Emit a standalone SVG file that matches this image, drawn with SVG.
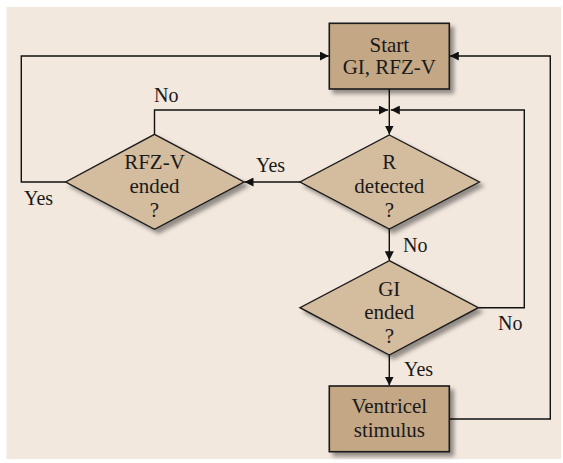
<svg xmlns="http://www.w3.org/2000/svg" width="563" height="463" viewBox="0 0 563 463">
  <defs>
    <style>
      .panel { fill: #f2e8de; }
      .box { fill: #c4a785; stroke: #1a1a1a; stroke-width: 1.6; filter: url(#shadow); }
      .dia { fill: #d4bc9e; stroke: #1a1a1a; stroke-width: 1.4; filter: url(#shadow); }
      .wire { fill: none; stroke: #111; stroke-width: 1.4; }
      text { font-family: 'Liberation Serif', 'Times New Roman', serif; font-size: 20px; fill: #1a1a1a; }
      .t { text-anchor: middle; font-size: 21px; }
    </style>
    <filter id="shadow" x="-20%" y="-20%" width="150%" height="150%">
      <feDropShadow dx="4" dy="4" stdDeviation="2" flood-color="#000" flood-opacity="0.4"/>
    </filter>
    <marker id="arr" viewBox="0 0 10 10" refX="10" refY="5" markerWidth="9" markerHeight="9" markerUnits="userSpaceOnUse" orient="auto">
      <path d="M0,0 L10,5 L0,10 z" fill="#111"/>
    </marker>
  </defs>

  <rect class="panel" x="6.5" y="7" width="554.5" height="452"/>

  <!-- connectors and their branch labels -->
  <g id="connectors">
    <path class="wire" d="M389.3,89 V134.5" marker-end="url(#arr)"/>
    <path class="wire" d="M154.5,134.3 V110 H388" marker-end="url(#arr)"/>
    <path class="wire" d="M478.3,307.7 H524.3 V110 H390.8" marker-end="url(#arr)"/>
    <path class="wire" d="M300,182 H244.5" marker-end="url(#arr)"/>
    <path class="wire" d="M65.7,182 H21.3 V56 H328.8" marker-end="url(#arr)"/>
    <path class="wire" d="M389.3,229 V260.3" marker-end="url(#arr)"/>
    <path class="wire" d="M389.3,355 V385.6" marker-end="url(#arr)"/>
    <path class="wire" d="M449.3,419 H550.3 V56 H449.8" marker-end="url(#arr)"/>
    <text x="154" y="102">No</text>
    <text x="256" y="171.5">Yes</text>
    <text x="24" y="205">Yes</text>
    <text x="403" y="251.5">No</text>
    <text x="498" y="330">No</text>
    <text x="404" y="376">Yes</text>
  </g>

  <g id="start">
    <rect class="box" x="329.3" y="23.3" width="120" height="65.7"/>
    <text class="t" x="389.3" y="51.7">Start</text>
    <text class="t" x="389.3" y="74.3">GI, RFZ-V</text>
  </g>

  <g id="r-detected">
    <polygon class="dia" points="389.3,135 479.3,182 389.3,229 300,182"/>
    <text class="t" x="389.3" y="169.3">R</text>
    <text class="t" x="389.3" y="193.3">detected</text>
    <text class="t" x="389.3" y="217.3">?</text>
  </g>

  <g id="rfzv-ended">
    <polygon class="dia" points="154.5,134.3 244,182 154.5,229.3 65.7,182"/>
    <text class="t" x="154.5" y="169.3">RFZ-V</text>
    <text class="t" x="154.5" y="193.3">ended</text>
    <text class="t" x="154.5" y="217.3">?</text>
  </g>

  <g id="gi-ended">
    <polygon class="dia" points="389.3,260.7 478.3,307.7 389.3,355 300,307.7"/>
    <text class="t" x="389.3" y="295.7">GI</text>
    <text class="t" x="389.3" y="319.3">ended</text>
    <text class="t" x="389.3" y="343.3">?</text>
  </g>

  <g id="ventricel-stimulus">
    <rect class="box" x="329.3" y="386" width="120" height="65.7"/>
    <text class="t" x="389.3" y="413.3">Ventricel</text>
    <text class="t" x="389.3" y="436.7">stimulus</text>
  </g>
</svg>
